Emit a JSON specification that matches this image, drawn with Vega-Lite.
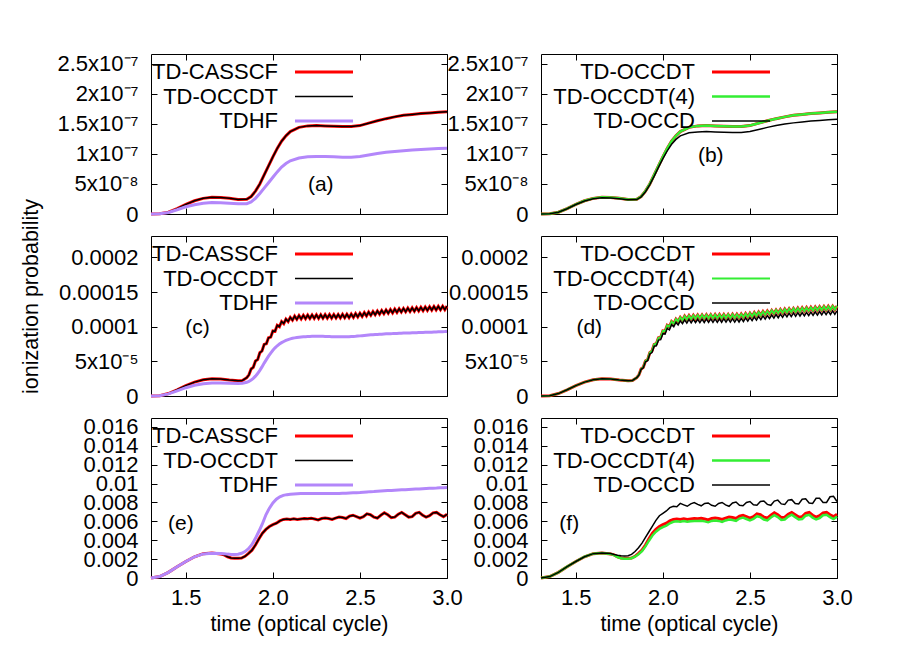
{
"$schema":"https://vega.github.io/schema/vega-lite/v6.json",
"padding":{"left":20,"top":52,"right":5,"bottom":5},
"bounds":"flush",
"columns":2,
"spacing":{"row":22,"column":94},
"resolve":{"scale":{"x":"independent","y":"independent","color":"independent"},"legend":{"color":"independent"}},
"datasets":{
"r1":[
{"t":1.3,"a":0,"o":0,"h":0,"f":0,"d":0},
{"t":1.35,"a":5e-10,"o":5e-10,"h":4e-10,"f":5e-10,"d":5e-10},
{"t":1.4,"a":3e-9,"o":3e-9,"h":2.5e-9,"f":3e-9,"d":3e-9},
{"t":1.45,"a":9e-9,"o":9e-9,"h":7e-9,"f":9e-9,"d":8.8e-9},
{"t":1.5,"a":1.6e-8,"o":1.6e-8,"h":1.2e-8,"f":1.6e-8,"d":1.57e-8},
{"t":1.55,"a":2.2e-8,"o":2.2e-8,"h":1.55e-8,"f":2.2e-8,"d":2.15e-8},
{"t":1.6,"a":2.6e-8,"o":2.6e-8,"h":1.8e-8,"f":2.6e-8,"d":2.55e-8},
{"t":1.65,"a":2.78e-8,"o":2.78e-8,"h":1.9e-8,"f":2.78e-8,"d":2.72e-8},
{"t":1.7,"a":2.75e-8,"o":2.75e-8,"h":1.88e-8,"f":2.75e-8,"d":2.68e-8},
{"t":1.75,"a":2.6e-8,"o":2.6e-8,"h":1.8e-8,"f":2.6e-8,"d":2.55e-8},
{"t":1.8,"a":2.42e-8,"o":2.42e-8,"h":1.72e-8,"f":2.42e-8,"d":2.38e-8},
{"t":1.85,"a":2.45e-8,"o":2.45e-8,"h":1.72e-8,"f":2.45e-8,"d":2.4e-8},
{"t":1.875,"a":2.9e-8,"o":2.9e-8,"h":2.0e-8,"f":2.9e-8,"d":2.85e-8},
{"t":1.9,"a":3.8e-8,"o":3.8e-8,"h":2.6e-8,"f":3.8e-8,"d":3.7e-8},
{"t":1.925,"a":5.0e-8,"o":5.0e-8,"h":3.4e-8,"f":5.0e-8,"d":4.9e-8},
{"t":1.95,"a":6.5e-8,"o":6.5e-8,"h":4.3e-8,"f":6.5e-8,"d":6.3e-8},
{"t":1.975,"a":8.0e-8,"o":8.0e-8,"h":5.2e-8,"f":8.0e-8,"d":7.8e-8},
{"t":2.0,"a":9.5e-8,"o":9.5e-8,"h":6.1e-8,"f":9.5e-8,"d":9.2e-8},
{"t":2.025,"a":1.09e-7,"o":1.09e-7,"h":7.0e-8,"f":1.09e-7,"d":1.05e-7},
{"t":2.05,"a":1.21e-7,"o":1.21e-7,"h":7.8e-8,"f":1.21e-7,"d":1.16e-7},
{"t":2.075,"a":1.30e-7,"o":1.30e-7,"h":8.4e-8,"f":1.30e-7,"d":1.24e-7},
{"t":2.1,"a":1.37e-7,"o":1.37e-7,"h":8.85e-8,"f":1.37e-7,"d":1.30e-7},
{"t":2.15,"a":1.44e-7,"o":1.44e-7,"h":9.3e-8,"f":1.44e-7,"d":1.35e-7},
{"t":2.2,"a":1.465e-7,"o":1.465e-7,"h":9.5e-8,"f":1.465e-7,"d":1.365e-7},
{"t":2.25,"a":1.47e-7,"o":1.47e-7,"h":9.55e-8,"f":1.47e-7,"d":1.37e-7},
{"t":2.3,"a":1.465e-7,"o":1.465e-7,"h":9.55e-8,"f":1.465e-7,"d":1.365e-7},
{"t":2.35,"a":1.46e-7,"o":1.46e-7,"h":9.5e-8,"f":1.46e-7,"d":1.36e-7},
{"t":2.4,"a":1.455e-7,"o":1.455e-7,"h":9.45e-8,"f":1.455e-7,"d":1.355e-7},
{"t":2.45,"a":1.455e-7,"o":1.455e-7,"h":9.45e-8,"f":1.455e-7,"d":1.355e-7},
{"t":2.5,"a":1.47e-7,"o":1.47e-7,"h":9.55e-8,"f":1.47e-7,"d":1.37e-7},
{"t":2.55,"a":1.51e-7,"o":1.51e-7,"h":9.8e-8,"f":1.51e-7,"d":1.405e-7},
{"t":2.6,"a":1.55e-7,"o":1.55e-7,"h":1.005e-7,"f":1.55e-7,"d":1.44e-7},
{"t":2.65,"a":1.585e-7,"o":1.585e-7,"h":1.025e-7,"f":1.585e-7,"d":1.47e-7},
{"t":2.7,"a":1.615e-7,"o":1.615e-7,"h":1.04e-7,"f":1.615e-7,"d":1.495e-7},
{"t":2.75,"a":1.64e-7,"o":1.64e-7,"h":1.052e-7,"f":1.64e-7,"d":1.515e-7},
{"t":2.8,"a":1.655e-7,"o":1.655e-7,"h":1.062e-7,"f":1.655e-7,"d":1.53e-7},
{"t":2.85,"a":1.67e-7,"o":1.67e-7,"h":1.072e-7,"f":1.67e-7,"d":1.545e-7},
{"t":2.9,"a":1.68e-7,"o":1.68e-7,"h":1.08e-7,"f":1.68e-7,"d":1.555e-7},
{"t":2.95,"a":1.69e-7,"o":1.69e-7,"h":1.088e-7,"f":1.69e-7,"d":1.565e-7},
{"t":3.0,"a":1.7e-7,"o":1.7e-7,"h":1.095e-7,"f":1.7e-7,"d":1.575e-7}
],
"r2":[
{"t":1.3,"a":0,"o":0,"h":0,"f":0,"d":0},
{"t":1.35,"a":5e-7,"o":5e-7,"h":4e-7,"f":5e-7,"d":5e-7},
{"t":1.4,"a":3.5e-6,"o":3.5e-6,"h":3e-6,"f":3.5e-6,"d":3.5e-6},
{"t":1.45,"a":9e-6,"o":9e-6,"h":7.5e-6,"f":9e-6,"d":9e-6},
{"t":1.5,"a":1.5e-5,"o":1.5e-5,"h":1.2e-5,"f":1.5e-5,"d":1.5e-5},
{"t":1.55,"a":2.0e-5,"o":2.0e-5,"h":1.55e-5,"f":2.0e-5,"d":2.0e-5},
{"t":1.6,"a":2.35e-5,"o":2.35e-5,"h":1.78e-5,"f":2.35e-5,"d":2.35e-5},
{"t":1.65,"a":2.5e-5,"o":2.5e-5,"h":1.87e-5,"f":2.5e-5,"d":2.5e-5},
{"t":1.7,"a":2.45e-5,"o":2.45e-5,"h":1.87e-5,"f":2.45e-5,"d":2.45e-5},
{"t":1.75,"a":2.3e-5,"o":2.3e-5,"h":1.83e-5,"f":2.3e-5,"d":2.3e-5},
{"t":1.8,"a":2.2e-5,"o":2.2e-5,"h":1.8e-5,"f":2.2e-5,"d":2.2e-5},
{"t":1.825,"a":2.25e-5,"o":2.25e-5,"h":1.85e-5,"f":2.25e-5,"d":2.25e-5},
{"t":1.85,"a":2.65e-5,"o":2.65e-5,"h":1.98e-5,"f":2.65e-5,"d":2.65e-5},
{"t":1.8625,"a":3.05e-5,"o":3.05e-5,"h":2.1e-5,"f":3.05e-5,"d":3.03e-5},
{"t":1.875,"a":3.9e-5,"o":3.9e-5,"h":2.3e-5,"f":3.9e-5,"d":3.86e-5},
{"t":1.8875,"a":4.15e-5,"o":4.15e-5,"h":2.55e-5,"f":4.15e-5,"d":4.08e-5},
{"t":1.9,"a":5.05e-5,"o":5.05e-5,"h":2.87e-5,"f":5.05e-5,"d":4.95e-5},
{"t":1.9125,"a":5.25e-5,"o":5.25e-5,"h":3.25e-5,"f":5.25e-5,"d":5.11e-5},
{"t":1.925,"a":6.25e-5,"o":6.25e-5,"h":3.7e-5,"f":6.25e-5,"d":6.07e-5},
{"t":1.9375,"a":6.5e-5,"o":6.5e-5,"h":4.2e-5,"f":6.5e-5,"d":6.28e-5},
{"t":1.95,"a":7.45e-5,"o":7.45e-5,"h":4.75e-5,"f":7.45e-5,"d":7.19e-5},
{"t":1.9625,"a":7.55e-5,"o":7.55e-5,"h":5.25e-5,"f":7.55e-5,"d":7.25e-5},
{"t":1.975,"a":8.4e-5,"o":8.4e-5,"h":5.75e-5,"f":8.4e-5,"d":8.07e-5},
{"t":1.9875,"a":8.5e-5,"o":8.5e-5,"h":6.2e-5,"f":8.5e-5,"d":8.13e-5},
{"t":2.0,"a":9.4e-5,"o":9.4e-5,"h":6.6e-5,"f":9.4e-5,"d":9.0e-5},
{"t":2.0125,"a":9.35e-5,"o":9.35e-5,"h":6.95e-5,"f":9.35e-5,"d":8.94e-5},
{"t":2.025,"a":1.02e-4,"o":1.02e-4,"h":7.25e-5,"f":1.02e-4,"d":9.77e-5},
{"t":2.0375,"a":1.0e-4,"o":1.0e-4,"h":7.5e-5,"f":1.0e-4,"d":9.56e-5},
{"t":2.05,"a":1.075e-4,"o":1.075e-4,"h":7.7e-5,"f":1.075e-4,"d":1.03e-4},
{"t":2.0625,"a":1.045e-4,"o":1.045e-4,"h":7.87e-5,"f":1.045e-4,"d":9.99e-5},
{"t":2.075,"a":1.11e-4,"o":1.11e-4,"h":8.02e-5,"f":1.11e-4,"d":1.062e-4},
{"t":2.0875,"a":1.075e-4,"o":1.075e-4,"h":8.15e-5,"f":1.075e-4,"d":1.026e-4},
{"t":2.1,"a":1.135e-4,"o":1.135e-4,"h":8.25e-5,"f":1.135e-4,"d":1.085e-4},
{"t":2.1125,"a":1.095e-4,"o":1.095e-4,"h":8.33e-5,"f":1.095e-4,"d":1.044e-4},
{"t":2.125,"a":1.152e-4,"o":1.152e-4,"h":8.39e-5,"f":1.152e-4,"d":1.099e-4},
{"t":2.1375,"a":1.107e-4,"o":1.107e-4,"h":8.44e-5,"f":1.107e-4,"d":1.053e-4},
{"t":2.15,"a":1.161e-4,"o":1.161e-4,"h":8.48e-5,"f":1.161e-4,"d":1.106e-4},
{"t":2.1625,"a":1.113e-4,"o":1.113e-4,"h":8.52e-5,"f":1.113e-4,"d":1.057e-4},
{"t":2.175,"a":1.165e-4,"o":1.165e-4,"h":8.55e-5,"f":1.165e-4,"d":1.107e-4},
{"t":2.1875,"a":1.117e-4,"o":1.117e-4,"h":8.57e-5,"f":1.117e-4,"d":1.058e-4},
{"t":2.2,"a":1.168e-4,"o":1.168e-4,"h":8.59e-5,"f":1.168e-4,"d":1.108e-4},
{"t":2.2125,"a":1.119e-4,"o":1.119e-4,"h":8.6e-5,"f":1.119e-4,"d":1.059e-4},
{"t":2.225,"a":1.17e-4,"o":1.17e-4,"h":8.61e-5,"f":1.17e-4,"d":1.11e-4},
{"t":2.2375,"a":1.121e-4,"o":1.121e-4,"h":8.62e-5,"f":1.121e-4,"d":1.061e-4},
{"t":2.25,"a":1.172e-4,"o":1.172e-4,"h":8.62e-5,"f":1.172e-4,"d":1.112e-4},
{"t":2.2625,"a":1.122e-4,"o":1.122e-4,"h":8.62e-5,"f":1.122e-4,"d":1.062e-4},
{"t":2.275,"a":1.173e-4,"o":1.173e-4,"h":8.62e-5,"f":1.173e-4,"d":1.113e-4},
{"t":2.2875,"a":1.123e-4,"o":1.123e-4,"h":8.61e-5,"f":1.123e-4,"d":1.063e-4},
{"t":2.3,"a":1.174e-4,"o":1.174e-4,"h":8.6e-5,"f":1.174e-4,"d":1.114e-4},
{"t":2.3125,"a":1.124e-4,"o":1.124e-4,"h":8.59e-5,"f":1.124e-4,"d":1.064e-4},
{"t":2.325,"a":1.175e-4,"o":1.175e-4,"h":8.58e-5,"f":1.175e-4,"d":1.115e-4},
{"t":2.3375,"a":1.125e-4,"o":1.125e-4,"h":8.57e-5,"f":1.125e-4,"d":1.065e-4},
{"t":2.35,"a":1.176e-4,"o":1.176e-4,"h":8.56e-5,"f":1.176e-4,"d":1.116e-4},
{"t":2.3625,"a":1.126e-4,"o":1.126e-4,"h":8.55e-5,"f":1.126e-4,"d":1.066e-4},
{"t":2.375,"a":1.177e-4,"o":1.177e-4,"h":8.55e-5,"f":1.177e-4,"d":1.117e-4},
{"t":2.3875,"a":1.127e-4,"o":1.127e-4,"h":8.54e-5,"f":1.127e-4,"d":1.067e-4},
{"t":2.4,"a":1.178e-4,"o":1.178e-4,"h":8.54e-5,"f":1.178e-4,"d":1.116e-4},
{"t":2.4125,"a":1.129e-4,"o":1.129e-4,"h":8.54e-5,"f":1.129e-4,"d":1.067e-4},
{"t":2.425,"a":1.18e-4,"o":1.18e-4,"h":8.55e-5,"f":1.18e-4,"d":1.118e-4},
{"t":2.4375,"a":1.131e-4,"o":1.131e-4,"h":8.56e-5,"f":1.131e-4,"d":1.069e-4},
{"t":2.45,"a":1.183e-4,"o":1.183e-4,"h":8.58e-5,"f":1.183e-4,"d":1.121e-4},
{"t":2.4625,"a":1.136e-4,"o":1.136e-4,"h":8.6e-5,"f":1.136e-4,"d":1.074e-4},
{"t":2.475,"a":1.189e-4,"o":1.189e-4,"h":8.62e-5,"f":1.189e-4,"d":1.127e-4},
{"t":2.4875,"a":1.142e-4,"o":1.142e-4,"h":8.65e-5,"f":1.142e-4,"d":1.08e-4},
{"t":2.5,"a":1.195e-4,"o":1.195e-4,"h":8.68e-5,"f":1.195e-4,"d":1.133e-4},
{"t":2.5125,"a":1.149e-4,"o":1.149e-4,"h":8.71e-5,"f":1.149e-4,"d":1.087e-4},
{"t":2.525,"a":1.203e-4,"o":1.203e-4,"h":8.74e-5,"f":1.203e-4,"d":1.141e-4},
{"t":2.5375,"a":1.157e-4,"o":1.157e-4,"h":8.77e-5,"f":1.157e-4,"d":1.095e-4},
{"t":2.55,"a":1.211e-4,"o":1.211e-4,"h":8.8e-5,"f":1.211e-4,"d":1.149e-4},
{"t":2.5625,"a":1.165e-4,"o":1.165e-4,"h":8.83e-5,"f":1.165e-4,"d":1.103e-4},
{"t":2.575,"a":1.219e-4,"o":1.219e-4,"h":8.85e-5,"f":1.219e-4,"d":1.157e-4},
{"t":2.5875,"a":1.173e-4,"o":1.173e-4,"h":8.87e-5,"f":1.173e-4,"d":1.111e-4},
{"t":2.6,"a":1.227e-4,"o":1.227e-4,"h":8.89e-5,"f":1.227e-4,"d":1.162e-4},
{"t":2.6125,"a":1.181e-4,"o":1.181e-4,"h":8.91e-5,"f":1.181e-4,"d":1.116e-4},
{"t":2.625,"a":1.235e-4,"o":1.235e-4,"h":8.93e-5,"f":1.235e-4,"d":1.17e-4},
{"t":2.6375,"a":1.189e-4,"o":1.189e-4,"h":8.95e-5,"f":1.189e-4,"d":1.124e-4},
{"t":2.65,"a":1.242e-4,"o":1.242e-4,"h":8.97e-5,"f":1.242e-4,"d":1.177e-4},
{"t":2.6625,"a":1.195e-4,"o":1.195e-4,"h":8.98e-5,"f":1.195e-4,"d":1.13e-4},
{"t":2.675,"a":1.248e-4,"o":1.248e-4,"h":9.0e-5,"f":1.248e-4,"d":1.183e-4},
{"t":2.6875,"a":1.201e-4,"o":1.201e-4,"h":9.01e-5,"f":1.201e-4,"d":1.136e-4},
{"t":2.7,"a":1.254e-4,"o":1.254e-4,"h":9.03e-5,"f":1.254e-4,"d":1.189e-4},
{"t":2.7125,"a":1.207e-4,"o":1.207e-4,"h":9.04e-5,"f":1.207e-4,"d":1.142e-4},
{"t":2.725,"a":1.26e-4,"o":1.26e-4,"h":9.05e-5,"f":1.26e-4,"d":1.195e-4},
{"t":2.7375,"a":1.212e-4,"o":1.212e-4,"h":9.06e-5,"f":1.212e-4,"d":1.147e-4},
{"t":2.75,"a":1.264e-4,"o":1.264e-4,"h":9.08e-5,"f":1.264e-4,"d":1.199e-4},
{"t":2.7625,"a":1.216e-4,"o":1.216e-4,"h":9.09e-5,"f":1.216e-4,"d":1.151e-4},
{"t":2.775,"a":1.268e-4,"o":1.268e-4,"h":9.1e-5,"f":1.268e-4,"d":1.203e-4},
{"t":2.7875,"a":1.22e-4,"o":1.22e-4,"h":9.11e-5,"f":1.22e-4,"d":1.155e-4},
{"t":2.8,"a":1.272e-4,"o":1.272e-4,"h":9.12e-5,"f":1.272e-4,"d":1.204e-4},
{"t":2.8125,"a":1.224e-4,"o":1.224e-4,"h":9.13e-5,"f":1.224e-4,"d":1.156e-4},
{"t":2.825,"a":1.276e-4,"o":1.276e-4,"h":9.14e-5,"f":1.276e-4,"d":1.208e-4},
{"t":2.8375,"a":1.228e-4,"o":1.228e-4,"h":9.16e-5,"f":1.228e-4,"d":1.16e-4},
{"t":2.85,"a":1.28e-4,"o":1.28e-4,"h":9.17e-5,"f":1.28e-4,"d":1.212e-4},
{"t":2.8625,"a":1.232e-4,"o":1.232e-4,"h":9.18e-5,"f":1.232e-4,"d":1.164e-4},
{"t":2.875,"a":1.284e-4,"o":1.284e-4,"h":9.19e-5,"f":1.284e-4,"d":1.216e-4},
{"t":2.8875,"a":1.236e-4,"o":1.236e-4,"h":9.2e-5,"f":1.236e-4,"d":1.168e-4},
{"t":2.9,"a":1.288e-4,"o":1.288e-4,"h":9.21e-5,"f":1.288e-4,"d":1.22e-4},
{"t":2.9125,"a":1.24e-4,"o":1.24e-4,"h":9.22e-5,"f":1.24e-4,"d":1.172e-4},
{"t":2.925,"a":1.292e-4,"o":1.292e-4,"h":9.24e-5,"f":1.292e-4,"d":1.224e-4},
{"t":2.9375,"a":1.243e-4,"o":1.243e-4,"h":9.25e-5,"f":1.243e-4,"d":1.175e-4},
{"t":2.95,"a":1.294e-4,"o":1.294e-4,"h":9.26e-5,"f":1.294e-4,"d":1.226e-4},
{"t":2.9625,"a":1.245e-4,"o":1.245e-4,"h":9.27e-5,"f":1.245e-4,"d":1.177e-4},
{"t":2.975,"a":1.296e-4,"o":1.296e-4,"h":9.29e-5,"f":1.296e-4,"d":1.228e-4},
{"t":2.9875,"a":1.247e-4,"o":1.247e-4,"h":9.3e-5,"f":1.247e-4,"d":1.179e-4},
{"t":3.0,"a":1.298e-4,"o":1.298e-4,"h":9.32e-5,"f":1.298e-4,"d":1.23e-4}
],
"r3":[
{"t":1.3,"a":0,"o":0,"h":0,"f":0,"d":0},
{"t":1.35,"a":0.00015,"o":0.00015,"h":0.00015,"f":0.00015,"d":0.00015},
{"t":1.4,"a":0.0006,"o":0.0006,"h":0.0006,"f":0.0006,"d":0.0006},
{"t":1.45,"a":0.0012,"o":0.0012,"h":0.0012,"f":0.0012,"d":0.0012},
{"t":1.5,"a":0.00175,"o":0.00175,"h":0.00175,"f":0.00175,"d":0.00175},
{"t":1.55,"a":0.00225,"o":0.00225,"h":0.00225,"f":0.00225,"d":0.00225},
{"t":1.6,"a":0.00258,"o":0.00258,"h":0.00255,"f":0.00258,"d":0.00258},
{"t":1.65,"a":0.00265,"o":0.00265,"h":0.00262,"f":0.00265,"d":0.00265},
{"t":1.7,"a":0.00255,"o":0.00255,"h":0.0026,"f":0.00255,"d":0.0026},
{"t":1.72,"a":0.00245,"o":0.00245,"h":0.00257,"f":0.00243,"d":0.0025},
{"t":1.74,"a":0.00225,"o":0.00225,"h":0.00253,"f":0.00222,"d":0.00242},
{"t":1.76,"a":0.00212,"o":0.00212,"h":0.0025,"f":0.00209,"d":0.00235},
{"t":1.78,"a":0.00208,"o":0.00208,"h":0.00249,"f":0.00205,"d":0.00232},
{"t":1.8,"a":0.00208,"o":0.00208,"h":0.00252,"f":0.00205,"d":0.00235},
{"t":1.82,"a":0.00212,"o":0.00212,"h":0.00262,"f":0.00209,"d":0.0025},
{"t":1.84,"a":0.0023,"o":0.0023,"h":0.0028,"f":0.00225,"d":0.0028},
{"t":1.86,"a":0.0026,"o":0.0026,"h":0.0031,"f":0.00252,"d":0.0032},
{"t":1.88,"a":0.00295,"o":0.00295,"h":0.00355,"f":0.00285,"d":0.0037},
{"t":1.9,"a":0.0035,"o":0.0035,"h":0.0042,"f":0.00335,"d":0.0043},
{"t":1.92,"a":0.00415,"o":0.00415,"h":0.00495,"f":0.00395,"d":0.0049},
{"t":1.94,"a":0.00475,"o":0.00475,"h":0.00575,"f":0.0045,"d":0.0055},
{"t":1.96,"a":0.00515,"o":0.00515,"h":0.0067,"f":0.0049,"d":0.0061},
{"t":1.98,"a":0.00545,"o":0.00545,"h":0.0074,"f":0.0052,"d":0.0066},
{"t":2.0,"a":0.00565,"o":0.00565,"h":0.00795,"f":0.0054,"d":0.00685},
{"t":2.02,"a":0.0058,"o":0.0058,"h":0.00835,"f":0.00555,"d":0.0071},
{"t":2.04,"a":0.00605,"o":0.00605,"h":0.0086,"f":0.0058,"d":0.00745},
{"t":2.06,"a":0.0062,"o":0.0062,"h":0.00875,"f":0.00595,"d":0.0076},
{"t":2.08,"a":0.00625,"o":0.00625,"h":0.00883,"f":0.006,"d":0.00755},
{"t":2.1,"a":0.0062,"o":0.0062,"h":0.00888,"f":0.00595,"d":0.0079},
{"t":2.12,"a":0.00628,"o":0.00628,"h":0.00891,"f":0.00603,"d":0.00775},
{"t":2.14,"a":0.0062,"o":0.0062,"h":0.00893,"f":0.00595,"d":0.0076},
{"t":2.16,"a":0.00625,"o":0.00625,"h":0.00894,"f":0.006,"d":0.00785},
{"t":2.18,"a":0.0063,"o":0.0063,"h":0.00895,"f":0.00605,"d":0.008},
{"t":2.2,"a":0.00628,"o":0.00628,"h":0.00895,"f":0.00603,"d":0.0078},
{"t":2.22,"a":0.00632,"o":0.00632,"h":0.00896,"f":0.00607,"d":0.00765},
{"t":2.24,"a":0.00625,"o":0.00625,"h":0.00896,"f":0.006,"d":0.0079},
{"t":2.26,"a":0.00615,"o":0.00615,"h":0.00896,"f":0.0059,"d":0.00795},
{"t":2.28,"a":0.0063,"o":0.0063,"h":0.00896,"f":0.00605,"d":0.0077},
{"t":2.3,"a":0.00635,"o":0.00635,"h":0.00896,"f":0.0061,"d":0.0076},
{"t":2.32,"a":0.0063,"o":0.0063,"h":0.00895,"f":0.00605,"d":0.0079},
{"t":2.34,"a":0.0062,"o":0.0062,"h":0.00895,"f":0.00595,"d":0.008},
{"t":2.36,"a":0.00635,"o":0.00635,"h":0.00895,"f":0.0061,"d":0.00775},
{"t":2.38,"a":0.00645,"o":0.00645,"h":0.00896,"f":0.0062,"d":0.0076},
{"t":2.4,"a":0.0064,"o":0.0064,"h":0.00897,"f":0.00615,"d":0.00795},
{"t":2.42,"a":0.0063,"o":0.0063,"h":0.00898,"f":0.00605,"d":0.00805},
{"t":2.44,"a":0.00655,"o":0.00655,"h":0.009,"f":0.0063,"d":0.0077},
{"t":2.46,"a":0.00665,"o":0.00665,"h":0.00902,"f":0.0064,"d":0.00765},
{"t":2.48,"a":0.0065,"o":0.0065,"h":0.00904,"f":0.00625,"d":0.008},
{"t":2.5,"a":0.00635,"o":0.00635,"h":0.00906,"f":0.0061,"d":0.0081},
{"t":2.52,"a":0.0065,"o":0.0065,"h":0.00909,"f":0.00625,"d":0.00775},
{"t":2.54,"a":0.0068,"o":0.0068,"h":0.00912,"f":0.00655,"d":0.0077},
{"t":2.56,"a":0.0067,"o":0.0067,"h":0.00915,"f":0.00645,"d":0.0081},
{"t":2.58,"a":0.00645,"o":0.00645,"h":0.00917,"f":0.0062,"d":0.00815},
{"t":2.6,"a":0.00635,"o":0.00635,"h":0.0092,"f":0.0061,"d":0.0078},
{"t":2.62,"a":0.00665,"o":0.00665,"h":0.00922,"f":0.0064,"d":0.0077},
{"t":2.64,"a":0.0069,"o":0.0069,"h":0.00924,"f":0.00665,"d":0.00815},
{"t":2.66,"a":0.0067,"o":0.0067,"h":0.00926,"f":0.00645,"d":0.00825},
{"t":2.68,"a":0.0064,"o":0.0064,"h":0.00928,"f":0.00615,"d":0.00785},
{"t":2.7,"a":0.00645,"o":0.00645,"h":0.0093,"f":0.0062,"d":0.0078},
{"t":2.72,"a":0.00675,"o":0.00675,"h":0.00932,"f":0.0065,"d":0.00825},
{"t":2.74,"a":0.00695,"o":0.00695,"h":0.00934,"f":0.0067,"d":0.0083},
{"t":2.76,"a":0.0067,"o":0.0067,"h":0.00936,"f":0.00645,"d":0.0079},
{"t":2.78,"a":0.00645,"o":0.00645,"h":0.00938,"f":0.0062,"d":0.00785},
{"t":2.8,"a":0.0065,"o":0.0065,"h":0.0094,"f":0.00625,"d":0.00835},
{"t":2.82,"a":0.00685,"o":0.00685,"h":0.00942,"f":0.0066,"d":0.0084},
{"t":2.84,"a":0.00695,"o":0.00695,"h":0.00944,"f":0.0067,"d":0.00795},
{"t":2.86,"a":0.00665,"o":0.00665,"h":0.00946,"f":0.0064,"d":0.0079},
{"t":2.88,"a":0.00645,"o":0.00645,"h":0.00948,"f":0.0062,"d":0.00845},
{"t":2.9,"a":0.0066,"o":0.0066,"h":0.0095,"f":0.00635,"d":0.00845},
{"t":2.92,"a":0.0069,"o":0.0069,"h":0.00952,"f":0.00665,"d":0.008},
{"t":2.94,"a":0.00695,"o":0.00695,"h":0.00953,"f":0.0067,"d":0.008},
{"t":2.96,"a":0.0067,"o":0.0067,"h":0.00955,"f":0.00645,"d":0.0086},
{"t":2.98,"a":0.0065,"o":0.0065,"h":0.00956,"f":0.00625,"d":0.00865},
{"t":3.0,"a":0.00675,"o":0.00675,"h":0.00958,"f":0.0065,"d":0.0081}
]
},
"concat":[
{"width":296,"height":160,"data":{"name":"r1"},
 "layer":[
  {"mark":{"type":"line","strokeWidth":3},"encoding":{
   "x":{"field":"t","type":"quantitative","scale":{"domain":[1.3,3],"nice":false,"zero":false},"axis":{"values":[1.5,2,2.5,3],"labels":false,"title":null}},
   "y":{"field":"a","type":"quantitative","scale":{"domain":[0,2.66e-7],"nice":false},"axis":{"values":[0,5e-8,1e-7,1.5e-7,2e-7,2.5e-7],"title":null,"labelExpr":"datum.value == 0 ? '0' : datum.value < 9e-8 ? format(datum.value*1e8,'.2~g') + 'x10⁻⁸' : format(datum.value*1e7,'.2~g') + 'x10⁻⁷'"}},
   "color":{"datum":"TD-CASSCF","type":"nominal","scale":{"domain":["TD-CASSCF","TD-OCCDT","TDHF"],"range":["#ff0000","#000000","#b387fa"]},"legend":{"title":null,"orient":"none","legendX":162,"legendY":7,"symbolType":"M-2.9,0H2.9","symbolSize":400,"labelAlign":"right","labelOffset":-57,"encode":{"symbols":{"update":{"strokeWidth":{"signal":"datum.value === 'TD-OCCDT' ? 1.5 : 3"}}}}}}}},
  {"mark":{"type":"line","strokeWidth":1.5},"encoding":{
   "x":{"field":"t","type":"quantitative","scale":{"domain":[1.3,3],"nice":false,"zero":false},"axis":null},
   "y":{"field":"o","type":"quantitative","scale":{"domain":[0,2.66e-7],"nice":false},"axis":null},
   "color":{"datum":"TD-OCCDT","type":"nominal","scale":{"domain":["TD-CASSCF","TD-OCCDT","TDHF"],"range":["#ff0000","#000000","#b387fa"]},"legend":{"title":null,"orient":"none","legendX":162,"legendY":7,"symbolType":"M-2.9,0H2.9","symbolSize":400,"labelAlign":"right","labelOffset":-57,"encode":{"symbols":{"update":{"strokeWidth":{"signal":"datum.value === 'TD-OCCDT' ? 1.5 : 3"}}}}}}}},
  {"mark":{"type":"line","strokeWidth":3},"encoding":{
   "x":{"field":"t","type":"quantitative","scale":{"domain":[1.3,3],"nice":false,"zero":false},"axis":null},
   "y":{"field":"h","type":"quantitative","scale":{"domain":[0,2.66e-7],"nice":false},"axis":null},
   "color":{"datum":"TDHF","type":"nominal","scale":{"domain":["TD-CASSCF","TD-OCCDT","TDHF"],"range":["#ff0000","#000000","#b387fa"]},"legend":{"title":null,"orient":"none","legendX":162,"legendY":7,"symbolType":"M-2.9,0H2.9","symbolSize":400,"labelAlign":"right","labelOffset":-57,"encode":{"symbols":{"update":{"strokeWidth":{"signal":"datum.value === 'TD-OCCDT' ? 1.5 : 3"}}}}}}}},
  {"data":{"values":[{"label":"(a)"}]},"mark":{"type":"text","fontSize":21,"color":"#000"},"encoding":{
   "x":{"datum":2.275,"type":"quantitative","scale":{"domain":[1.3,3],"nice":false,"zero":false},"axis":null},
   "y":{"datum":4.8e-8,"type":"quantitative","scale":{"domain":[0,2.66e-7],"nice":false},"axis":null},
   "text":{"field":"label"}}},
  {"mark":{"type":"line","opacity":0},"encoding":{
   "x":{"field":"t","type":"quantitative","scale":{"domain":[1.3,3],"nice":false,"zero":false},"axis":{"orient":"top","values":[1.5,2,2.5,3],"labels":false,"title":null}},
   "y":{"field":"a","type":"quantitative","scale":{"domain":[0,2.66e-7],"nice":false},"axis":{"orient":"right","values":[0,5e-8,1e-7,1.5e-7,2e-7,2.5e-7],"labels":false,"title":null}}}}
 ],
 "resolve":{"axis":{"x":"independent","y":"independent"}}
},
{"width":296,"height":160,"data":{"name":"r1"},
 "layer":[
  {"mark":{"type":"line","strokeWidth":3},"encoding":{
   "x":{"field":"t","type":"quantitative","scale":{"domain":[1.3,3],"nice":false,"zero":false},"axis":{"values":[1.5,2,2.5,3],"labels":false,"title":null}},
   "y":{"field":"o","type":"quantitative","scale":{"domain":[0,2.66e-7],"nice":false},"axis":{"values":[0,5e-8,1e-7,1.5e-7,2e-7,2.5e-7],"title":null,"labelExpr":"datum.value == 0 ? '0' : datum.value < 9e-8 ? format(datum.value*1e8,'.2~g') + 'x10⁻⁸' : format(datum.value*1e7,'.2~g') + 'x10⁻⁷'"}},
   "color":{"datum":"TD-OCCDT","type":"nominal","scale":{"domain":["TD-OCCDT","TD-OCCDT(4)","TD-OCCD"],"range":["#ff0000","#33ee33","#000000"]},"legend":{"title":null,"orient":"none","legendX":189,"legendY":7,"symbolType":"M-2.9,0H2.9","symbolSize":400,"labelAlign":"right","labelOffset":-57,"encode":{"symbols":{"update":{"strokeWidth":{"signal":"datum.value === 'TD-OCCD' ? 1.5 : datum.value === 'TD-OCCDT(4)' ? 2.5 : 3"}}}}}}}},
  {"mark":{"type":"line","strokeWidth":2.5},"encoding":{
   "x":{"field":"t","type":"quantitative","scale":{"domain":[1.3,3],"nice":false,"zero":false},"axis":null},
   "y":{"field":"f","type":"quantitative","scale":{"domain":[0,2.66e-7],"nice":false},"axis":null},
   "color":{"datum":"TD-OCCDT(4)","type":"nominal","scale":{"domain":["TD-OCCDT","TD-OCCDT(4)","TD-OCCD"],"range":["#ff0000","#33ee33","#000000"]},"legend":{"title":null,"orient":"none","legendX":189,"legendY":7,"symbolType":"M-2.9,0H2.9","symbolSize":400,"labelAlign":"right","labelOffset":-57,"encode":{"symbols":{"update":{"strokeWidth":{"signal":"datum.value === 'TD-OCCD' ? 1.5 : datum.value === 'TD-OCCDT(4)' ? 2.5 : 3"}}}}}}}},
  {"mark":{"type":"line","strokeWidth":1.5},"encoding":{
   "x":{"field":"t","type":"quantitative","scale":{"domain":[1.3,3],"nice":false,"zero":false},"axis":null},
   "y":{"field":"d","type":"quantitative","scale":{"domain":[0,2.66e-7],"nice":false},"axis":null},
   "color":{"datum":"TD-OCCD","type":"nominal","scale":{"domain":["TD-OCCDT","TD-OCCDT(4)","TD-OCCD"],"range":["#ff0000","#33ee33","#000000"]},"legend":{"title":null,"orient":"none","legendX":189,"legendY":7,"symbolType":"M-2.9,0H2.9","symbolSize":400,"labelAlign":"right","labelOffset":-57,"encode":{"symbols":{"update":{"strokeWidth":{"signal":"datum.value === 'TD-OCCD' ? 1.5 : datum.value === 'TD-OCCDT(4)' ? 2.5 : 3"}}}}}}}},
  {"data":{"values":[{"label":"(b)"}]},"mark":{"type":"text","fontSize":21,"color":"#000"},"encoding":{
   "x":{"datum":2.275,"type":"quantitative","scale":{"domain":[1.3,3],"nice":false,"zero":false},"axis":null},
   "y":{"datum":9.57e-8,"type":"quantitative","scale":{"domain":[0,2.66e-7],"nice":false},"axis":null},
   "text":{"field":"label"}}},
  {"mark":{"type":"line","opacity":0},"encoding":{
   "x":{"field":"t","type":"quantitative","scale":{"domain":[1.3,3],"nice":false,"zero":false},"axis":{"orient":"top","values":[1.5,2,2.5,3],"labels":false,"title":null}},
   "y":{"field":"o","type":"quantitative","scale":{"domain":[0,2.66e-7],"nice":false},"axis":{"orient":"right","values":[0,5e-8,1e-7,1.5e-7,2e-7,2.5e-7],"labels":false,"title":null}}}}
 ],
 "resolve":{"axis":{"x":"independent","y":"independent"}}
},
{"width":296,"height":160,"data":{"name":"r2"},
 "layer":[
  {"mark":{"type":"line","strokeWidth":3},"encoding":{
   "x":{"field":"t","type":"quantitative","scale":{"domain":[1.3,3],"nice":false,"zero":false},"axis":{"values":[1.5,2,2.5,3],"labels":false,"title":null}},
   "y":{"field":"a","type":"quantitative","scale":{"domain":[0,2.31e-4],"nice":false},"axis":{"values":[0,5e-5,1e-4,1.5e-4,2e-4],"title":"ionization probability","titleX":-119.5,"titleY":60,"titleAngle":-90,"titleAlign":"center","titleBaseline":"middle","labelExpr":"datum.value == 0 ? '0' : datum.value < 9e-5 ? format(datum.value*1e5,'.2~g') + 'x10⁻⁵' : format(datum.value,'~g')"}},
   "color":{"datum":"TD-CASSCF","type":"nominal","scale":{"domain":["TD-CASSCF","TD-OCCDT","TDHF"],"range":["#ff0000","#000000","#b387fa"]},"legend":{"title":null,"orient":"none","legendX":162,"legendY":7,"symbolType":"M-2.9,0H2.9","symbolSize":400,"labelAlign":"right","labelOffset":-57,"encode":{"symbols":{"update":{"strokeWidth":{"signal":"datum.value === 'TD-OCCDT' ? 1.5 : 3"}}}}}}}},
  {"mark":{"type":"line","strokeWidth":1.5},"encoding":{
   "x":{"field":"t","type":"quantitative","scale":{"domain":[1.3,3],"nice":false,"zero":false},"axis":null},
   "y":{"field":"o","type":"quantitative","scale":{"domain":[0,2.31e-4],"nice":false},"axis":null},
   "color":{"datum":"TD-OCCDT","type":"nominal","scale":{"domain":["TD-CASSCF","TD-OCCDT","TDHF"],"range":["#ff0000","#000000","#b387fa"]},"legend":{"title":null,"orient":"none","legendX":162,"legendY":7,"symbolType":"M-2.9,0H2.9","symbolSize":400,"labelAlign":"right","labelOffset":-57,"encode":{"symbols":{"update":{"strokeWidth":{"signal":"datum.value === 'TD-OCCDT' ? 1.5 : 3"}}}}}}}},
  {"mark":{"type":"line","strokeWidth":3},"encoding":{
   "x":{"field":"t","type":"quantitative","scale":{"domain":[1.3,3],"nice":false,"zero":false},"axis":null},
   "y":{"field":"h","type":"quantitative","scale":{"domain":[0,2.31e-4],"nice":false},"axis":null},
   "color":{"datum":"TDHF","type":"nominal","scale":{"domain":["TD-CASSCF","TD-OCCDT","TDHF"],"range":["#ff0000","#000000","#b387fa"]},"legend":{"title":null,"orient":"none","legendX":162,"legendY":7,"symbolType":"M-2.9,0H2.9","symbolSize":400,"labelAlign":"right","labelOffset":-57,"encode":{"symbols":{"update":{"strokeWidth":{"signal":"datum.value === 'TD-OCCDT' ? 1.5 : 3"}}}}}}}},
  {"data":{"values":[{"label":"(c)"}]},"mark":{"type":"text","fontSize":21,"color":"#000"},"encoding":{
   "x":{"datum":1.567,"type":"quantitative","scale":{"domain":[1.3,3],"nice":false,"zero":false},"axis":null},
   "y":{"datum":9.83e-5,"type":"quantitative","scale":{"domain":[0,2.31e-4],"nice":false},"axis":null},
   "text":{"field":"label"}}},
  {"mark":{"type":"line","opacity":0},"encoding":{
   "x":{"field":"t","type":"quantitative","scale":{"domain":[1.3,3],"nice":false,"zero":false},"axis":{"orient":"top","values":[1.5,2,2.5,3],"labels":false,"title":null}},
   "y":{"field":"a","type":"quantitative","scale":{"domain":[0,2.31e-4],"nice":false},"axis":{"orient":"right","values":[0,5e-5,1e-4,1.5e-4,2e-4],"labels":false,"title":null}}}}
 ],
 "resolve":{"axis":{"x":"independent","y":"independent"}}
},
{"width":296,"height":160,"data":{"name":"r2"},
 "layer":[
  {"mark":{"type":"line","strokeWidth":3},"encoding":{
   "x":{"field":"t","type":"quantitative","scale":{"domain":[1.3,3],"nice":false,"zero":false},"axis":{"values":[1.5,2,2.5,3],"labels":false,"title":null}},
   "y":{"field":"o","type":"quantitative","scale":{"domain":[0,2.31e-4],"nice":false},"axis":{"values":[0,5e-5,1e-4,1.5e-4,2e-4],"title":null,"labelExpr":"datum.value == 0 ? '0' : datum.value < 9e-5 ? format(datum.value*1e5,'.2~g') + 'x10⁻⁵' : format(datum.value,'~g')"}},
   "color":{"datum":"TD-OCCDT","type":"nominal","scale":{"domain":["TD-OCCDT","TD-OCCDT(4)","TD-OCCD"],"range":["#ff0000","#33ee33","#000000"]},"legend":{"title":null,"orient":"none","legendX":189,"legendY":7,"symbolType":"M-2.9,0H2.9","symbolSize":400,"labelAlign":"right","labelOffset":-57,"encode":{"symbols":{"update":{"strokeWidth":{"signal":"datum.value === 'TD-OCCD' ? 1.5 : datum.value === 'TD-OCCDT(4)' ? 2 : 3"}}}}}}}},
  {"mark":{"type":"line","strokeWidth":2},"encoding":{
   "x":{"field":"t","type":"quantitative","scale":{"domain":[1.3,3],"nice":false,"zero":false},"axis":null},
   "y":{"field":"f","type":"quantitative","scale":{"domain":[0,2.31e-4],"nice":false},"axis":null},
   "color":{"datum":"TD-OCCDT(4)","type":"nominal","scale":{"domain":["TD-OCCDT","TD-OCCDT(4)","TD-OCCD"],"range":["#ff0000","#33ee33","#000000"]},"legend":{"title":null,"orient":"none","legendX":189,"legendY":7,"symbolType":"M-2.9,0H2.9","symbolSize":400,"labelAlign":"right","labelOffset":-57,"encode":{"symbols":{"update":{"strokeWidth":{"signal":"datum.value === 'TD-OCCD' ? 1.5 : datum.value === 'TD-OCCDT(4)' ? 2 : 3"}}}}}}}},
  {"mark":{"type":"line","strokeWidth":1.5},"encoding":{
   "x":{"field":"t","type":"quantitative","scale":{"domain":[1.3,3],"nice":false,"zero":false},"axis":null},
   "y":{"field":"d","type":"quantitative","scale":{"domain":[0,2.31e-4],"nice":false},"axis":null},
   "color":{"datum":"TD-OCCD","type":"nominal","scale":{"domain":["TD-OCCDT","TD-OCCDT(4)","TD-OCCD"],"range":["#ff0000","#33ee33","#000000"]},"legend":{"title":null,"orient":"none","legendX":189,"legendY":7,"symbolType":"M-2.9,0H2.9","symbolSize":400,"labelAlign":"right","labelOffset":-57,"encode":{"symbols":{"update":{"strokeWidth":{"signal":"datum.value === 'TD-OCCD' ? 1.5 : datum.value === 'TD-OCCDT(4)' ? 2 : 3"}}}}}}}},
  {"data":{"values":[{"label":"(d)"}]},"mark":{"type":"text","fontSize":21,"color":"#000"},"encoding":{
   "x":{"datum":1.577,"type":"quantitative","scale":{"domain":[1.3,3],"nice":false,"zero":false},"axis":null},
   "y":{"datum":9.87e-5,"type":"quantitative","scale":{"domain":[0,2.31e-4],"nice":false},"axis":null},
   "text":{"field":"label"}}},
  {"mark":{"type":"line","opacity":0},"encoding":{
   "x":{"field":"t","type":"quantitative","scale":{"domain":[1.3,3],"nice":false,"zero":false},"axis":{"orient":"top","values":[1.5,2,2.5,3],"labels":false,"title":null}},
   "y":{"field":"o","type":"quantitative","scale":{"domain":[0,2.31e-4],"nice":false},"axis":{"orient":"right","values":[0,5e-5,1e-4,1.5e-4,2e-4],"labels":false,"title":null}}}}
 ],
 "resolve":{"axis":{"x":"independent","y":"independent"}}
},
{"width":296,"height":160,"data":{"name":"r3"},
 "layer":[
  {"mark":{"type":"line","strokeWidth":3},"encoding":{
   "x":{"field":"t","type":"quantitative","scale":{"domain":[1.3,3],"nice":false,"zero":false},"axis":{"values":[1.5,2,2.5,3],"format":".1f","title":"time (optical cycle)","titleY":52,"titleBaseline":"alphabetic"}},
   "y":{"field":"a","type":"quantitative","scale":{"domain":[0,0.01695],"nice":false},"axis":{"values":[0,0.002,0.004,0.006,0.008,0.01,0.012,0.014,0.016],"title":null,"labelExpr":"datum.value == 0 ? '0' : format(datum.value,'~g')"}},
   "color":{"datum":"TD-CASSCF","type":"nominal","scale":{"domain":["TD-CASSCF","TD-OCCDT","TDHF"],"range":["#ff0000","#000000","#b387fa"]},"legend":{"title":null,"orient":"none","legendX":162,"legendY":7,"symbolType":"M-2.9,0H2.9","symbolSize":400,"labelAlign":"right","labelOffset":-57,"encode":{"symbols":{"update":{"strokeWidth":{"signal":"datum.value === 'TD-OCCDT' ? 1.5 : 3"}}}}}}}},
  {"mark":{"type":"line","strokeWidth":1.5},"encoding":{
   "x":{"field":"t","type":"quantitative","scale":{"domain":[1.3,3],"nice":false,"zero":false},"axis":null},
   "y":{"field":"o","type":"quantitative","scale":{"domain":[0,0.01695],"nice":false},"axis":null},
   "color":{"datum":"TD-OCCDT","type":"nominal","scale":{"domain":["TD-CASSCF","TD-OCCDT","TDHF"],"range":["#ff0000","#000000","#b387fa"]},"legend":{"title":null,"orient":"none","legendX":162,"legendY":7,"symbolType":"M-2.9,0H2.9","symbolSize":400,"labelAlign":"right","labelOffset":-57,"encode":{"symbols":{"update":{"strokeWidth":{"signal":"datum.value === 'TD-OCCDT' ? 1.5 : 3"}}}}}}}},
  {"mark":{"type":"line","strokeWidth":3},"encoding":{
   "x":{"field":"t","type":"quantitative","scale":{"domain":[1.3,3],"nice":false,"zero":false},"axis":null},
   "y":{"field":"h","type":"quantitative","scale":{"domain":[0,0.01695],"nice":false},"axis":null},
   "color":{"datum":"TDHF","type":"nominal","scale":{"domain":["TD-CASSCF","TD-OCCDT","TDHF"],"range":["#ff0000","#000000","#b387fa"]},"legend":{"title":null,"orient":"none","legendX":162,"legendY":7,"symbolType":"M-2.9,0H2.9","symbolSize":400,"labelAlign":"right","labelOffset":-57,"encode":{"symbols":{"update":{"strokeWidth":{"signal":"datum.value === 'TD-OCCDT' ? 1.5 : 3"}}}}}}}},
  {"data":{"values":[{"label":"(e)"}]},"mark":{"type":"text","fontSize":21,"color":"#000"},"encoding":{
   "x":{"datum":1.472,"type":"quantitative","scale":{"domain":[1.3,3],"nice":false,"zero":false},"axis":null},
   "y":{"datum":0.00574,"type":"quantitative","scale":{"domain":[0,0.01695],"nice":false},"axis":null},
   "text":{"field":"label"}}},
  {"mark":{"type":"line","opacity":0},"encoding":{
   "x":{"field":"t","type":"quantitative","scale":{"domain":[1.3,3],"nice":false,"zero":false},"axis":{"orient":"top","values":[1.5,2,2.5,3],"labels":false,"title":null}},
   "y":{"field":"a","type":"quantitative","scale":{"domain":[0,0.01695],"nice":false},"axis":{"orient":"right","values":[0,0.002,0.004,0.006,0.008,0.01,0.012,0.014,0.016],"labels":false,"title":null}}}}
 ],
 "resolve":{"axis":{"x":"independent","y":"independent"}}
},
{"width":296,"height":160,"data":{"name":"r3"},
 "layer":[
  {"mark":{"type":"line","strokeWidth":3},"encoding":{
   "x":{"field":"t","type":"quantitative","scale":{"domain":[1.3,3],"nice":false,"zero":false},"axis":{"values":[1.5,2,2.5,3],"format":".1f","title":"time (optical cycle)","titleY":52,"titleBaseline":"alphabetic"}},
   "y":{"field":"o","type":"quantitative","scale":{"domain":[0,0.01695],"nice":false},"axis":{"values":[0,0.002,0.004,0.006,0.008,0.01,0.012,0.014,0.016],"title":null,"labelExpr":"datum.value == 0 ? '0' : format(datum.value,'~g')"}},
   "color":{"datum":"TD-OCCDT","type":"nominal","scale":{"domain":["TD-OCCDT","TD-OCCDT(4)","TD-OCCD"],"range":["#ff0000","#33ee33","#000000"]},"legend":{"title":null,"orient":"none","legendX":189,"legendY":7,"symbolType":"M-2.9,0H2.9","symbolSize":400,"labelAlign":"right","labelOffset":-57,"encode":{"symbols":{"update":{"strokeWidth":{"signal":"datum.value === 'TD-OCCD' ? 1.5 : datum.value === 'TD-OCCDT(4)' ? 2.5 : 3"}}}}}}}},
  {"mark":{"type":"line","strokeWidth":2.5},"encoding":{
   "x":{"field":"t","type":"quantitative","scale":{"domain":[1.3,3],"nice":false,"zero":false},"axis":null},
   "y":{"field":"f","type":"quantitative","scale":{"domain":[0,0.01695],"nice":false},"axis":null},
   "color":{"datum":"TD-OCCDT(4)","type":"nominal","scale":{"domain":["TD-OCCDT","TD-OCCDT(4)","TD-OCCD"],"range":["#ff0000","#33ee33","#000000"]},"legend":{"title":null,"orient":"none","legendX":189,"legendY":7,"symbolType":"M-2.9,0H2.9","symbolSize":400,"labelAlign":"right","labelOffset":-57,"encode":{"symbols":{"update":{"strokeWidth":{"signal":"datum.value === 'TD-OCCD' ? 1.5 : datum.value === 'TD-OCCDT(4)' ? 2.5 : 3"}}}}}}}},
  {"mark":{"type":"line","strokeWidth":1.5},"encoding":{
   "x":{"field":"t","type":"quantitative","scale":{"domain":[1.3,3],"nice":false,"zero":false},"axis":null},
   "y":{"field":"d","type":"quantitative","scale":{"domain":[0,0.01695],"nice":false},"axis":null},
   "color":{"datum":"TD-OCCD","type":"nominal","scale":{"domain":["TD-OCCDT","TD-OCCDT(4)","TD-OCCD"],"range":["#ff0000","#33ee33","#000000"]},"legend":{"title":null,"orient":"none","legendX":189,"legendY":7,"symbolType":"M-2.9,0H2.9","symbolSize":400,"labelAlign":"right","labelOffset":-57,"encode":{"symbols":{"update":{"strokeWidth":{"signal":"datum.value === 'TD-OCCD' ? 1.5 : datum.value === 'TD-OCCDT(4)' ? 2.5 : 3"}}}}}}}},
  {"data":{"values":[{"label":"(f)"}]},"mark":{"type":"text","fontSize":21,"color":"#000"},"encoding":{
   "x":{"datum":1.462,"type":"quantitative","scale":{"domain":[1.3,3],"nice":false,"zero":false},"axis":null},
   "y":{"datum":0.00574,"type":"quantitative","scale":{"domain":[0,0.01695],"nice":false},"axis":null},
   "text":{"field":"label"}}},
  {"mark":{"type":"line","opacity":0},"encoding":{
   "x":{"field":"t","type":"quantitative","scale":{"domain":[1.3,3],"nice":false,"zero":false},"axis":{"orient":"top","values":[1.5,2,2.5,3],"labels":false,"title":null}},
   "y":{"field":"o","type":"quantitative","scale":{"domain":[0,0.01695],"nice":false},"axis":{"orient":"right","values":[0,0.002,0.004,0.006,0.008,0.01,0.012,0.014,0.016],"labels":false,"title":null}}}}
 ],
 "resolve":{"axis":{"x":"independent","y":"independent"}}
}
],
"config":{
 "font":"Liberation Sans",
 "background":"white",
 "view":{"stroke":"#000","strokeWidth":1},
 "axis":{"domain":false,"grid":false,"tickSize":-6,"tickColor":"#000","tickWidth":1,"labelFont":"Liberation Sans","labelFontSize":22,"labelColor":"#000","labelFlush":false,"labelOverlap":false,"titleFont":"Liberation Sans","titleFontSize":21.5,"titleFontWeight":"normal","titleColor":"#000"},
 "axisX":{"labelPadding":15},
 "axisY":{"labelPadding":19},
 "legend":{"labelFont":"Liberation Sans","labelFontSize":22,"labelColor":"#000","labelLimit":400,"rowPadding":2.5,"padding":0,"offset":0}
}
}
